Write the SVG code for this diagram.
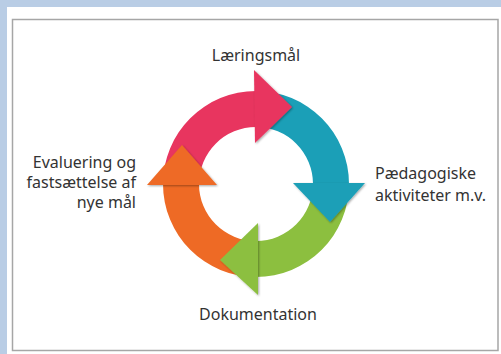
<svg xmlns="http://www.w3.org/2000/svg" width="501" height="354" viewBox="0 0 501 354">
  <defs>
    <filter id="sh" x="-30%" y="-30%" width="160%" height="160%">
      <feDropShadow dx="1" dy="1" stdDeviation="1.2" flood-color="#000" flood-opacity="0.35"/>
    </filter>
  </defs>
  <style>
    .lbl { font-family: "Noto Sans", "Open Sans", sans-serif; font-size: 16px; fill: #333333; }
    .pink { fill: #e8355f; }
    .teal { fill: #1b9fb7; }
    .green { fill: #8cbf3f; }
    .orange { fill: #ee6a25; }
  </style>
  <rect x="0" y="0" width="501" height="354" fill="#b9cde5"/>
  <rect x="7" y="7" width="494" height="347" fill="#ffffff"/>
  <rect x="12.5" y="19.5" width="485.5" height="331" fill="#ffffff" stroke="#a6a6a6" stroke-width="1.5"/>

  <g id="cycle">
    <g id="arcs">
      <path class="pink" d="M 163 184 A 93 93 0 0 1 256 91 L 256 127 A 57 57 0 0 0 199 184 Z"/>
      <path class="teal" d="M 256 91 A 93 93 0 0 1 349 184 L 313 184 A 57 57 0 0 0 256 127 Z"/>
      <path class="green" d="M 349 184 A 93 93 0 0 1 256 277 L 256 241 A 57 57 0 0 0 313 184 Z"/>
      <path class="orange" d="M 256 277 A 93 93 0 0 1 163 184 L 199 184 A 57 57 0 0 0 256 241 Z"/>
    </g>
    <g id="heads" filter="url(#sh)">
      <polygon class="pink" points="254,70 292,107 255,143"/>
      <polygon class="teal" points="293,183 365,183 330,222"/>
      <polygon class="green" points="258,223 258,295 220,260"/>
      <polygon class="orange" points="147,185 217,185 182,145"/>
    </g>
  </g>

  <g id="node-laeringsmaal">
    <text class="lbl" x="256" y="61" text-anchor="middle">Læringsmål</text>
  </g>
  <g id="node-paedagogiske">
    <text class="lbl" x="375" y="179">Pædagogiske</text>
    <text class="lbl" x="375" y="201">aktiviteter m.v.</text>
  </g>
  <g id="node-dokumentation">
    <text class="lbl" x="258" y="320" text-anchor="middle">Dokumentation</text>
  </g>
  <g id="node-evaluering">
    <text class="lbl" x="136" y="168" text-anchor="end">Evaluering og</text>
    <text class="lbl" x="136" y="188" text-anchor="end">fastsættelse af</text>
    <text class="lbl" x="136" y="208" text-anchor="end">nye mål</text>
  </g>
</svg>
